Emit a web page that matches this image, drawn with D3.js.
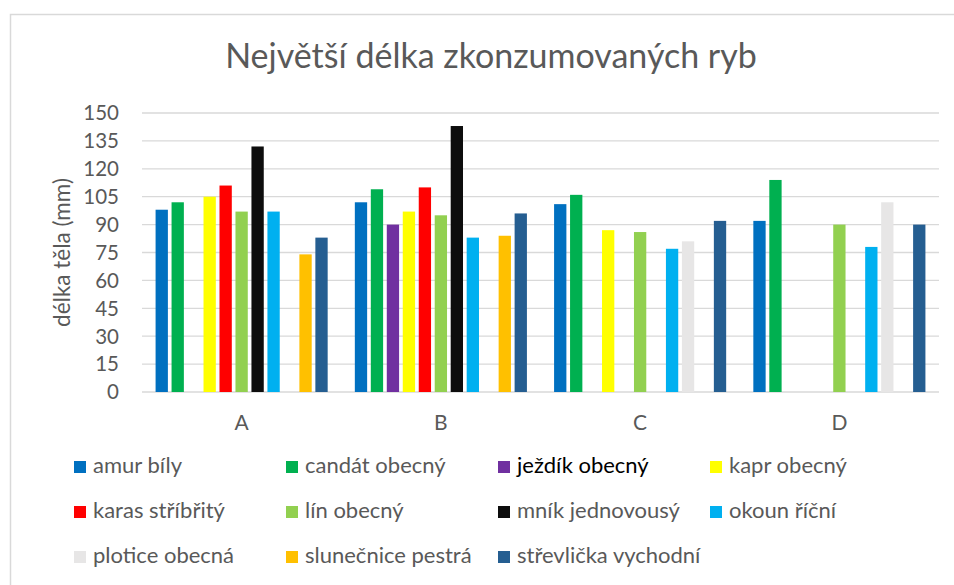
<!DOCTYPE html>
<html>
<head>
<meta charset="utf-8">
<script src="https://cdn.jsdelivr.net/npm/d3@7"></script>
<style>
  body { margin: 0; background: #fff; }
  svg text { font-family: Lato, "Open Sans", sans-serif; fill: #595959; }
</style>
</head>
<body>
<script>
// categories (sites) and fish species
var categories = ["A", "B", "C", "D"];

var species = ["amur bíly", "candát obecný", "ježdík obecný", "kapr obecný",
    "karas stříbřitý", "lín obecný", "mník jednovousý", "okoun říční",
    "plotice obecná", "slunečnice pestrá", "střevlička vychodní"];

var colors = ["#0070C0", "#00B050", "#7030A0", "#FFFF00", "#FF0000", "#92D050",
    "#0D0D0D", "#00B0F0", "#E7E6E6", "#FFC000", "#255E91"];

// values per species for A, B, C, D (null = no bar)
var amur = [98, 102, 101, 92];
var candat = [102, 109, 106, 114];
var jezdik = [null, 90, null, null];
var kapr = [105, 97, 87, null];
var karas = [111, 110, null, null];
var lin = [97, 95, 86, 90];
var mnik = [132, 143, null, null];
var okoun = [97, 83, 77, 78];
var plotice = [null, null, 81, 102];
var slunecnice = [74, 84, null, null];
var strevlicka = [83, 96, 92, 90];

var yTicks = [0, 15, 30, 45, 60, 75, 90, 105, 120, 135, 150];

var seriesValues = [amur, candat, jezdik, kapr, karas, lin, mnik, okoun, plotice, slunecnice, strevlicka];

var width = 954, height = 585;

var svg = d3.select("body").append("svg").attr("width", width).attr("height", height);

// chart border
svg.append("rect")
    .attr("x", 10.5).attr("y", 14.5)
    .attr("width", width).attr("height", height)
    .attr("fill", "none").attr("stroke", "#d9d9d9").attr("stroke-width", 1.5);

// title
svg.append("text")
    .attr("x", 491).attr("y", 68)
    .attr("text-anchor", "middle")
    .style("font-size", "34px")
    .text("Největší délka zkonzumovaných ryb");

var x0 = d3.scaleBand().domain(categories).range([142, 939]);
var x1 = d3.scaleBand().domain(d3.range(species.length))
    .range([0, x0.bandwidth()]).paddingInner(0.23).paddingOuter(0.85);
var y = d3.scaleLinear().domain([0, 150]).range([392, 113]);

// gridlines
svg.append("g").selectAll("line").data(yTicks).enter().append("line")
    .attr("x1", 142).attr("x2", 939)
    .attr("y1", function (d) { return y(d) }).attr("y2", function (d) { return y(d) })
    .attr("stroke", "#d9d9d9").attr("stroke-width", 1.3);

// y tick labels
svg.append("g").selectAll("text").data(yTicks).enter().append("text")
    .attr("x", 119).attr("y", function (d) { return y(d) })
    .attr("dy", "0.36em")
    .attr("text-anchor", "end")
    .style("font-size", "20.5px")
    .text(function (d) { return d });

// y axis title
svg.append("text")
    .attr("transform", "translate(70," + y(75) + ") rotate(-90)")
    .attr("text-anchor", "middle")
    .style("font-size", "22.5px")
    .text("délka těla (mm)");

// category labels
svg.append("g").selectAll("text").data(categories).enter().append("text")
    .attr("x", function (d) { return x0(d) + x0.bandwidth() / 2 })
    .attr("y", 430)
    .attr("text-anchor", "middle")
    .style("font-size", "21px")
    .text(function (d) { return d });

// bars
var groups = svg.append("g").selectAll("g").data(seriesValues).enter().append("g")
    .attr("fill", function (d, i) { return colors[i] });

groups.each(function (vals, si) {
    var bars = vals.map(function (v, ci) { return { s: si, c: categories[ci], v: v } })
        .filter(function (d) { return d.v !== null });
    d3.select(this).selectAll("rect").data(bars).enter().append("rect")
        .attr("x", function (d) { return x0(d.c) + x1(d.s) })
        .attr("width", x1.bandwidth())
        .attr("y", function (d) { return y(d.v) })
        .attr("height", function (d) { return y(0) - y(d.v) });
});

// legend
var legend = svg.append("g").selectAll("g").data(species).enter().append("g")
    .attr("transform", function (d, i) {
        return "translate(" + (74 + (i % 4) * 212) + "," + (461 + Math.floor(i / 4) * 45) + ")";
    });

legend.append("rect")
    .attr("width", 12).attr("height", 12)
    .attr("fill", function (d, i) { return colors[i] });

legend.append("text")
    .attr("x", 19).attr("y", 12)
    .style("font-size", "22px")
    .style("fill", function (d, i) { return i === 2 ? "#000" : "#595959" })
    .text(function (d) { return d });
</script>
</body>
</html>
